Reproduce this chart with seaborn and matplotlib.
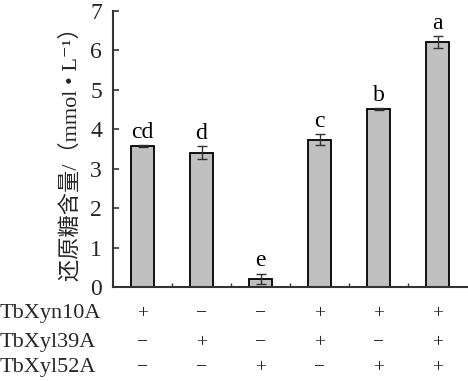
import matplotlib
matplotlib.use("Agg")
import matplotlib.pyplot as plt
import matplotlib.transforms as mtransforms
import seaborn as sns
import pandas as pd
import numpy as np

groups = ["G1", "G2", "G3", "G4", "G5", "G6"]
values = [3.57, 3.41, 0.21, 3.74, 4.51, 6.22]
errors = [0.03, 0.17, 0.13, 0.13, 0.02, 0.15]
letters = ["cd", "d", "e", "c", "b", "a"]
row_names = ["TbXyn10A", "TbXyl39A", "TbXyl52A"]
row_marks = [
    ["+", "−", "−", "+", "+", "+"],
    ["−", "+", "−", "+", "−", "+"],
    ["−", "−", "+", "−", "+", "+"],
]
ylabel = "还原糖含量/（mmol • L⁻¹）"

sns.set_theme(style="white")
FAM = ["Liberation Serif", "Noto Sans CJK SC", "DejaVu Serif"]
plt.rcParams["font.family"] = FAM

df = pd.DataFrame({"group": groups, "value": values})

fig = plt.figure(figsize=(4.68, 3.81), dpi=100)
ax = fig.add_axes([0.2415, 0.2467, 0.7565, 0.7243])

sns.barplot(data=df, x="group", y="value", order=groups, color="#c0c0c0",
            edgecolor="black", linewidth=1.3, width=0.4, saturation=1, ax=ax,
            errorbar=None)
ax.errorbar(np.arange(len(groups)), values, yerr=errors, fmt="none",
            ecolor="#333333", elinewidth=1.0, capsize=3.5, capthick=1.0)

for i, (v, e, lab) in enumerate(zip(values, errors, letters)):
    ax.text(i, v + e + 0.06, lab, ha="center", va="bottom", fontsize=17,
            family=FAM, color="black")

ax.set_xlim(-0.5, 5.5)
ax.set_ylim(0, 7)
ax.set_yticks(range(0, 8))
ax.set_yticklabels([str(t) for t in range(0, 8)], fontsize=17)
ax.set_xticks([])
ax.set_xticks(np.arange(0.5, 5.0, 1.0), minor=True)
ax.tick_params(axis="x", which="minor", direction="in", length=3, width=1,
               color="#333333", bottom=True)
ax.tick_params(axis="y", direction="in", length=4, width=1.2, color="#333333",
               pad=8, left=True)
ax.set_xlabel("")
ax.set_ylabel(ylabel, fontsize=16, family=FAM, labelpad=6)
for s in ["top", "right"]:
    ax.spines[s].set_visible(False)
for s in ["left", "bottom"]:
    ax.spines[s].set_color("#333333")
    ax.spines[s].set_linewidth(1.5)

trans = mtransforms.blended_transform_factory(ax.transData, fig.transFigure)
row_y = [0.176, 0.100, 0.035]
for name, marks, yy in zip(row_names, row_marks, row_y):
    fig.text(0.0, yy, name, ha="left", va="center", fontsize=16, family=FAM)
    for i, m in enumerate(marks):
        ax.text(i, yy, m, ha="center", va="center", fontsize=14, family=FAM,
                transform=trans, clip_on=False)

fig.savefig("out.png", dpi=100)
